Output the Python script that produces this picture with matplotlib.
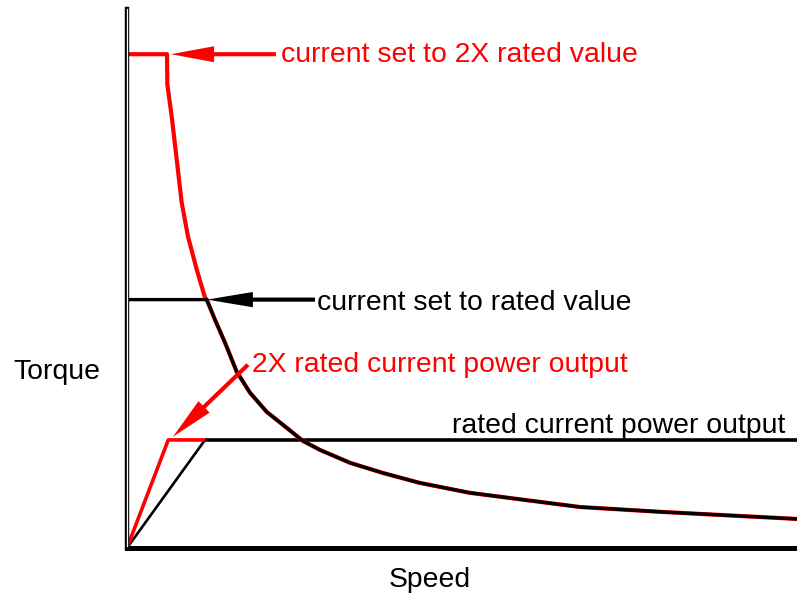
import matplotlib
matplotlib.use('Agg')
import matplotlib.pyplot as plt

plt.rcParams['font.family'] = ['Liberation Sans', 'DejaVu Sans']

# speed in units of the rated-current corner speed, torque in units of rated torque
speed_tail = [1.022, 1.128, 1.256, 1.406, 1.577, 1.791, 2.047, 2.256, 2.474, 2.859,
              3.282, 3.756, 4.397, 5.808, 6.872, 8.59]
torque_tail = [1.0, 0.919, 0.827, 0.710, 0.625, 0.548, 0.484, 0.431, 0.395, 0.343,
               0.302, 0.262, 0.222, 0.165, 0.145, 0.117]

speed_2x = [0, 0.513, 0.517, 0.573, 0.637, 0.701, 0.782, 0.894, 1.0] + speed_tail
torque_2x = [1.988, 1.988, 1.867, 1.738, 1.565, 1.391, 1.254, 1.121, 1.008] + torque_tail

speed_rated = [0] + speed_tail
torque_rated = [1.0] + torque_tail

power_speed_rated = [0, 1.0, 8.59]
power_rated = [0, 0.435, 0.435]
power_speed_2x = [0, 0.529, 1.0]
power_2x = [0, 0.435, 0.435]

x_max = 8.59
y_max = 2.17

fig = plt.figure(figsize=(7.97, 5.96), dpi=100)
ax = fig.add_axes([127 / 797, 48 / 596, 670 / 797, 539 / 596])

ax.plot(power_speed_rated[:2], power_rated[:2], color='black', lw=1.9, solid_capstyle='butt')
ax.plot(power_speed_rated[1:], power_rated[1:], color='black', lw=2.6, solid_capstyle='butt')
ax.plot(power_speed_2x, power_2x, color='#ff0000', lw=2.6, solid_capstyle='butt')

ax.plot(speed_2x, torque_2x, color='#ff0000', lw=3.0)
ax.plot(speed_rated, torque_rated, color='black', lw=2.4)

# arrows
ax.annotate('', xy=(0.564, torque_2x[0]), xytext=(1.91, torque_2x[0]),
            arrowprops=dict(arrowstyle='simple,head_length=3.1,head_width=1.15,tail_width=0.3',
                            mutation_scale=10, color='#ff0000', lw=0,
                            shrinkA=0, shrinkB=0))
ax.annotate('', xy=(1.026, torque_rated[0]), xytext=(2.41, torque_rated[0]),
            arrowprops=dict(arrowstyle='simple,head_length=3.3,head_width=1.1,tail_width=0.3',
                            mutation_scale=10, color='black', lw=0,
                            shrinkA=0, shrinkB=0))
ax.annotate('', xy=(0.590, 0.448), xytext=(1.551, 0.738),
            arrowprops=dict(arrowstyle='simple,head_length=3.1,head_width=1.15,tail_width=0.3',
                            mutation_scale=10, color='#ff0000', lw=0,
                            shrinkA=0, shrinkB=0))

fs = 20.4
ax.text(1.974, 1.956, 'current set to 2X rated value', color='#ff0000', fontsize=fs,
        va='baseline', ha='left')
ax.text(2.436, 0.960, 'current set to rated value', color='black', fontsize=fs,
        va='baseline', ha='left')
ax.text(1.603, 0.710, '2X rated current power output', color='#ff0000', fontsize=fs,
        va='baseline', ha='left')
ax.text(8.436, 0.464, 'rated current power output', color='black', fontsize=fs,
        va='baseline', ha='right')

fig.text(13 / 797, (596 - 379) / 596, 'Torque', fontsize=fs, va='baseline', ha='left')
fig.text(389 / 797, (596 - 587) / 596, 'Speed', fontsize=fs, va='baseline', ha='left')

ax.set_xlim(0, x_max)
ax.set_ylim(0, y_max)
ax.spines['top'].set_visible(False)
ax.spines['right'].set_visible(False)
ax.spines['left'].set_linewidth(3.2)
ax.spines['bottom'].set_linewidth(3.6)
ax.set_xticks([])
ax.set_yticks([])
# double-line look of the torque axis
ax.plot([0, 0], [0.01, y_max], color='white', lw=0.9, clip_on=False, zorder=3)

fig.savefig('out.png', dpi=100)
